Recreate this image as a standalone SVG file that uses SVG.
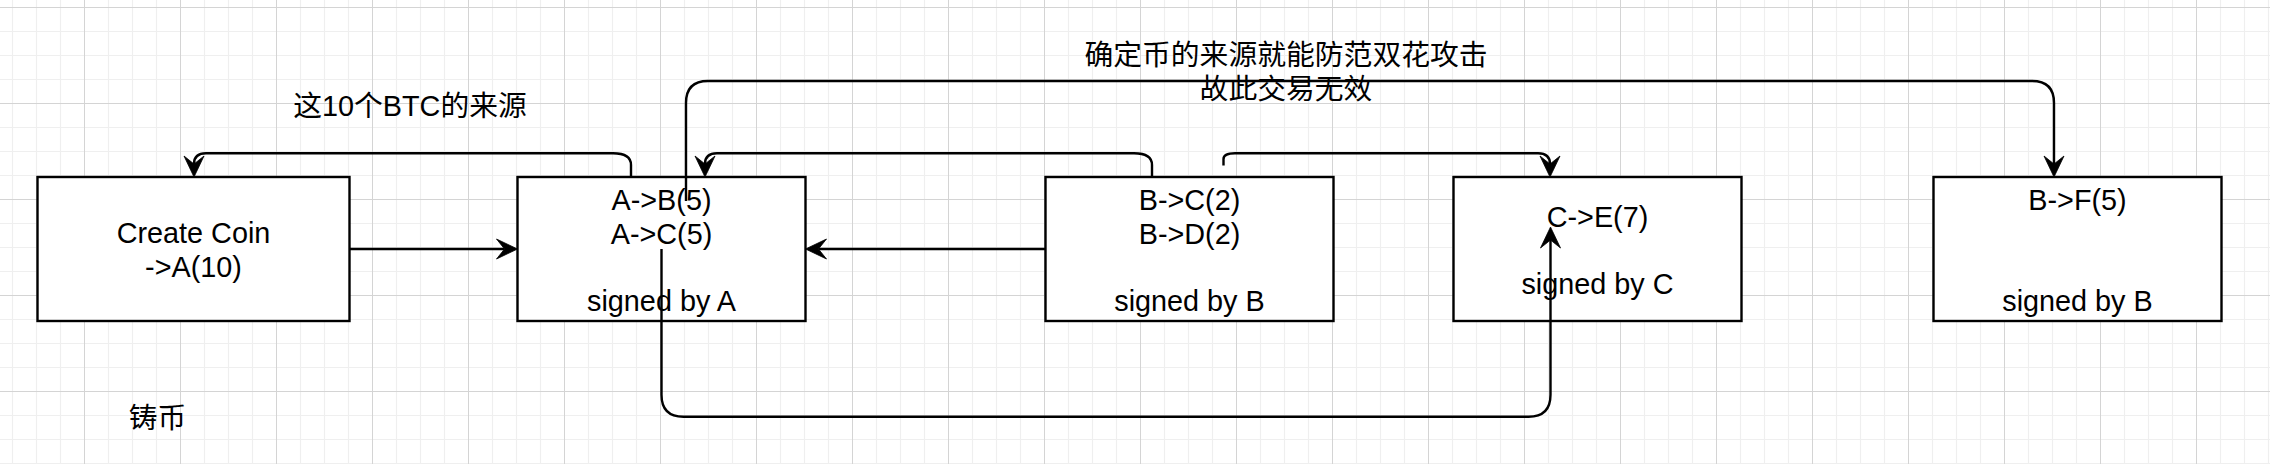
<svg xmlns="http://www.w3.org/2000/svg" width="2270" height="464" viewBox="0 0 2270 464">
<style>
.box{fill:#fff;stroke:#000;stroke-width:2.4}
.lbl{font-family:"Liberation Sans","Noto Sans CJK SC",sans-serif;font-size:28.8px;fill:#000;text-anchor:middle}
.edge{fill:none;stroke:#000;stroke-width:2.4}
</style>
<defs>
<pattern id="grid" x="84" y="7" width="96" height="96" patternUnits="userSpaceOnUse">
<path d="M24.5 0V96M48.5 0V96M72.5 0V96M0 24.5H96M0 48.5H96M0 72.5H96" stroke="#efefef" stroke-width="1.2"/>
<path d="M0.5 0V96M0 0.5H96" stroke="#d4d4d4" stroke-width="1"/>
</pattern>
<marker id="arr" viewBox="-1 -12 24 24" refX="8" refY="0" markerWidth="24" markerHeight="24" markerUnits="userSpaceOnUse" orient="auto">
<path d="M0,-10 L21,0 L0,10 L8,0 Z" fill="#000" stroke="#000" stroke-width="0.8" stroke-linejoin="miter"/>
</marker>
</defs>
<rect width="2270" height="464" fill="#fff"/>
<rect width="2270" height="464" fill="url(#grid)"/>

<g id="node-create-coin">
<rect class="box" x="37.5" y="177" width="312" height="144"/>
<text class="lbl" x="193.5" y="243">Create Coin</text>
<text class="lbl" x="193.5" y="276.5">-&gt;A(10)</text>
</g>
<g id="node-tx-a">
<rect class="box" x="517.5" y="177" width="288" height="144"/>
<text class="lbl" x="661.5" y="210">A-&gt;B(5)</text>
<text class="lbl" x="661.5" y="243.5">A-&gt;C(5)</text>
<text class="lbl" x="661.5" y="310.5">signed by A</text>
</g>
<g id="node-tx-b">
<rect class="box" x="1045.5" y="177" width="288" height="144"/>
<text class="lbl" x="1189.5" y="210">B-&gt;C(2)</text>
<text class="lbl" x="1189.5" y="243.5">B-&gt;D(2)</text>
<text class="lbl" x="1189.5" y="310.5">signed by B</text>
</g>
<g id="node-tx-c">
<rect class="box" x="1453.5" y="177" width="288" height="144"/>
<text class="lbl" x="1597.5" y="226.5">C-&gt;E(7)</text>
<text class="lbl" x="1597.5" y="293.5">signed by C</text>
</g>
<g id="node-tx-b2">
<rect class="box" x="1933.5" y="177" width="288" height="144"/>
<text class="lbl" x="2077.5" y="210">B-&gt;F(5)</text>
<text class="lbl" x="2077.5" y="310.5">signed by B</text>
</g>

<g id="connectors">
<path class="edge" d="M349.5 249H504.5" marker-end="url(#arr)"/>
<path class="edge" d="M1045.5 249H818.5" marker-end="url(#arr)"/>
<path class="edge" d="M631 177V165Q631 153.3 613 153.3H206Q194 153.3 194 164" marker-end="url(#arr)"/>
<path class="edge" d="M1152 177V165Q1152 153.3 1134 153.3H717Q705 153.3 705 164" marker-end="url(#arr)"/>
<path class="edge" d="M1223.5 165.5V159Q1223.5 153.3 1235 153.3H1538Q1550 153.3 1550 164" marker-end="url(#arr)"/>
<path class="edge" d="M686 201V103Q686 81 708 81H2032Q2054 81 2054 103V164" marker-end="url(#arr)"/>
<path class="edge" d="M661.5 249V394.7Q661.5 416.7 683.5 416.7H1528.5Q1550.5 416.7 1550.5 394.7V240" marker-end="url(#arr)"/>
</g>

<g id="label-source">
<text class="lbl" x="410" y="116">这10个BTC的来源</text>
</g>
<g id="label-double-spend">
<text class="lbl" x="1286" y="64.5">确定币的来源就能防范双花攻击</text>
<text class="lbl" x="1286" y="98.5">故此交易无效</text>
</g>
<g id="label-mint">
<text class="lbl" x="157.5" y="427.5">铸币</text>
</g>
</svg>
